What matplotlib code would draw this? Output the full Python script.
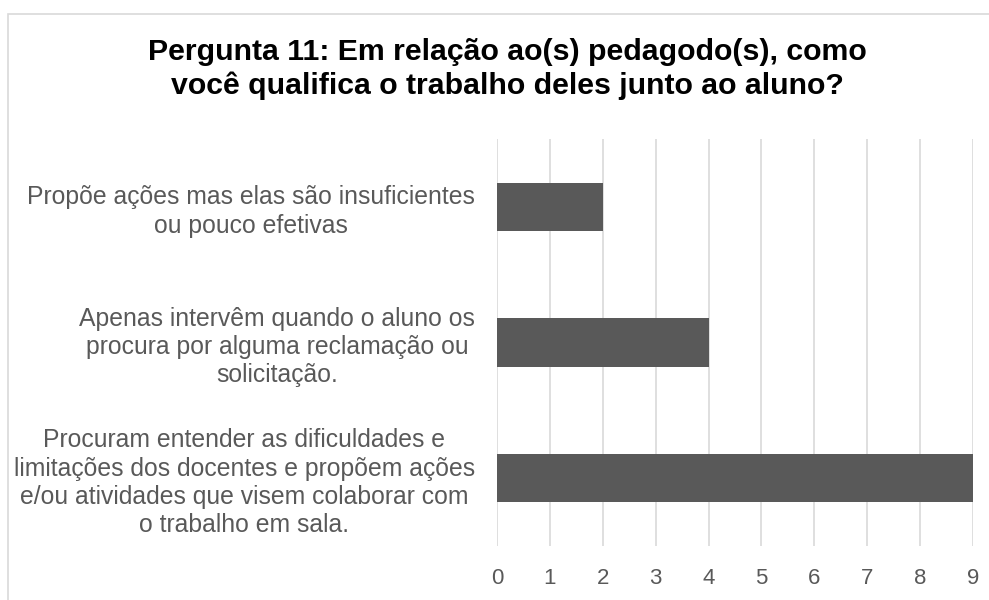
import matplotlib.pyplot as plt
from matplotlib.patches import Rectangle

# data
categories = [
    "Procuram entender as dificuldades e\nlimitações dos docentes e propõem ações\ne/ou atividades que visem colaborar com\no trabalho em sala.",
    "Apenas intervêm quando o aluno os\nprocura por alguma reclamação ou\nsolicitação.",
    "Propõe ações mas elas são insuficientes\nou pouco efetivas",
]
values = [9, 4, 2]
ticks = [0, 1, 2, 3, 4, 5, 6, 7, 8, 9]
title = "Pergunta 11: Em relação ao(s) pedagodo(s), como\nvocê qualifica o trabalho deles junto ao aluno?"

plt.rcParams['font.family'] = ['Liberation Sans', 'DejaVu Sans']
W, H = 989, 600
fig = plt.figure(figsize=(W / 100, H / 100), dpi=100)

# chart frame (cropped at right and bottom)
fig.patches.append(Rectangle((8 / W, -0.1), 1.2, 1.1 - 14 / H, transform=fig.transFigure,
                             fill=False, edgecolor='#d9d9d9', linewidth=1.2))

ax = fig.add_axes([497 / W, 54 / H, (973 - 497) / W, (546 - 139) / H])
ax.barh(range(len(values)), values, height=0.354, color='#595959', zorder=3)
ax.set_xlim(0, 9)
ax.set_ylim(-0.5, len(values) - 0.5)
ax.set_xticks(ticks)
ax.set_xticklabels([str(t) for t in ticks])
ax.set_yticks(range(len(categories)))
ax.set_yticklabels(categories, multialignment='center', linespacing=1.22)
ax.tick_params(axis='both', length=0, labelcolor='#595959')
ax.tick_params(axis='x', pad=16, labelsize=16)
ax.tick_params(axis='y', pad=16, labelsize=17.8)
ax.grid(axis='x', color='#d9d9d9', linewidth=1.2, zorder=0)
for s in ax.spines.values():
    s.set_visible(False)

fig.text(507 / W, 1 - 69 / H, title, ha='center', va='center', fontsize=21.8,
         fontweight='bold', color='black', linespacing=1.25)

fig.savefig('out.png', dpi=100, facecolor='white')
